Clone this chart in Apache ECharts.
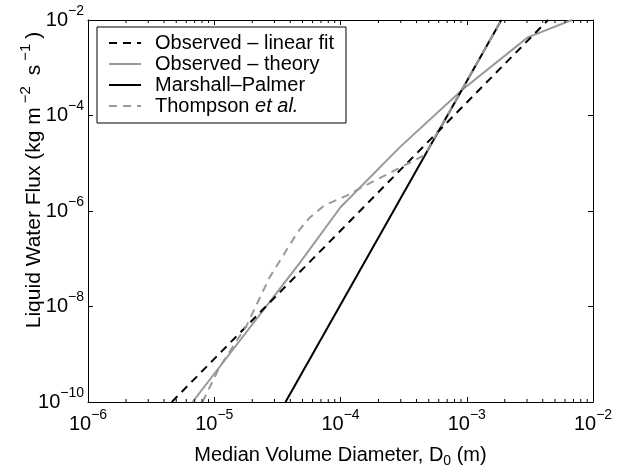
<!DOCTYPE html>
<html><head><meta charset="utf-8">
<script src="https://cdn.jsdelivr.net/npm/echarts@6/dist/echarts.min.js"></script>
<style>html,body{margin:0;padding:0;background:#fff}#c{width:624px;height:473px}</style>
</head><body><div id="c"></div>
<script>
const seriesNames = ['Observed – linear fit', 'Observed – theory', 'Marshall–Palmer', 'Thompson et al.'];
const linearFitD = [4.61e-6, 4.40e-3];
const linearFitF = [1e-10, 1e-2];
const theoryD = [6.73e-6, 4.74e-5, 1.00e-4, 2.94e-4, 9.27e-4, 3.04e-3, 6.78e-3];
const theoryF = [1e-10, 8.11e-8, 1.20e-6, 2.15e-5, 3.51e-4, 4.33e-3, 1e-2];
const mpD = [3.67e-5, 1.88e-3];
const mpF = [1e-10, 1e-2];
const thompsonD = [8.07e-6, 1.10e-5, 1.80e-5, 2.74e-5, 4.57e-5, 5.69e-5, 7.48e-5, 1.12e-4, 1.50e-4, 2.59e-4, 4.65e-4, 1.88e-3];
const thompsonF = [1e-10, 5.33e-10, 3.94e-9, 4.04e-8, 3.60e-7, 7.23e-7, 1.32e-6, 2.10e-6, 3.20e-6, 6.73e-6, 1.49e-5, 1e-2];
const xTicks = [1e-6, 1e-5, 1e-4, 1e-3, 1e-2];
const yTicks = [1e-10, 1e-8, 1e-6, 1e-4, 1e-2];

const FONT = "'Liberation Sans', Arial, Helvetica, sans-serif";
const xMin = xTicks[0], xMax = xTicks[xTicks.length - 1];
const yMin = yTicks[0], yMax = yTicks[yTicks.length - 1];
const minorX = [];
for (let i = 0; i < xTicks.length - 1; i++) for (let k = 2; k <= 9; k++) minorX.push([k * xTicks[i], yMin]);

function pair(a, b) { return a.map((v, i) => [v, b[i]]); }
function expLabel(v) {
  const e = Math.round(Math.log10(v));
  return '{b|10}{s|' + (e < 0 ? '\u2212' : '') + Math.abs(e) + '}';
}
const tickRich = {
  b: { fontFamily: FONT, fontSize: 20, color: '#000' },
  s: { fontFamily: FONT, fontSize: 14, color: '#000', padding: [0, 0, 18, 0] }
};

const chart = echarts.init(document.getElementById('c'), null, { renderer: 'canvas' });
const axisCommon = {
  axisLine: { show: true, onZero: false, lineStyle: { color: '#000', width: 1 } },
  axisTick: { show: true, inside: true, length: 5, lineStyle: { color: '#000', width: 1 } },
  splitLine: { show: false },
  minorTick: { show: false }
};
chart.setOption({
  animation: false,
  backgroundColor: '#fff',
  grid: { left: 88, right: 31, top: 20, bottom: 57, containLabel: false },
  xAxis: [
    Object.assign({ type: 'log', logBase: 10, min: xMin, max: xMax, position: 'bottom',
      axisLabel: { margin: 6, formatter: expLabel, rich: tickRich },
      name: 'Median Volume Diameter, {sub|D}{s0|0} (m)', nameLocation: 'middle', nameGap: 40,
      nameTextStyle: { fontFamily: FONT, fontSize: 20, color: '#000',
        rich: { sub: { fontFamily: FONT, fontSize: 20, color: '#000' },
                s0: { fontFamily: FONT, fontSize: 14, color: '#000', padding: [12, 0, 0, 0] } } }
    }, axisCommon),
    Object.assign({ type: 'log', logBase: 10, min: xMin, max: xMax, position: 'top',
      axisLabel: { show: false } }, axisCommon)
  ],
  yAxis: [
    Object.assign({ type: 'log', logBase: 100, min: yMin, max: yMax, position: 'left',
      axisLabel: { margin: 4, formatter: expLabel, rich: tickRich } }, axisCommon),
    Object.assign({ type: 'log', logBase: 100, min: yMin, max: yMax, position: 'right',
      axisLabel: { show: false } }, axisCommon)
  ],
  legend: {
    orient: 'vertical', left: 97, top: 27,
    data: seriesNames,
    backgroundColor: '#fff', borderColor: '#000', borderWidth: 1, borderRadius: 0,
    padding: [6, 12, 7, 11], itemGap: 1, itemWidth: 32, itemHeight: 14,
    itemStyle: { opacity: 0, borderWidth: 0 },
    textStyle: { fontFamily: FONT, fontSize: 20, lineHeight: 20, color: '#000', padding: [0, 0, 0, 9],
      rich: { n: { fontFamily: FONT, fontSize: 20, lineHeight: 20, color: '#000' },
              i: { fontFamily: FONT, fontSize: 20, lineHeight: 20, color: '#000', fontStyle: 'italic' } } },
    formatter: function (name) {
      if (name === seriesNames[3]) return '{n|Thompson }{i|et al.}';
      return name;
    }
  },
  graphic: [{
    type: 'text', x: 34, y: 180, rotation: Math.PI / 2,
    style: {
      text: 'Liquid Water Flux (kg m{s|\u22122} s{s|\u22121})',
      fontFamily: FONT, fontSize: 21, fill: '#000', align: 'center', verticalAlign: 'middle',
      rich: { s: { fontFamily: FONT, fontSize: 15, fill: '#000', padding: [0, 5, 17, 4] } }
    }
  }],
  series: [
    { name: seriesNames[0], type: 'line', data: pair(linearFitD, linearFitF), symbol: 'none',
      lineStyle: { color: '#000', width: 2, type: [8, 6] }, itemStyle: { color: '#000' }, z: 3 },
    { name: seriesNames[1], type: 'line', data: pair(theoryD, theoryF), symbol: 'none',
      lineStyle: { color: '#999', width: 2, type: 'solid' }, itemStyle: { color: '#999' }, z: 2 },
    { name: seriesNames[2], type: 'line', data: pair(mpD, mpF), symbol: 'none',
      lineStyle: { color: '#000', width: 2, type: 'solid' }, itemStyle: { color: '#000' }, z: 3 },
    { name: seriesNames[3], type: 'line', data: pair(thompsonD, thompsonF), symbol: 'none',
      lineStyle: { color: '#999', width: 2, type: [8, 6] }, itemStyle: { color: '#999' }, z: 4 },
    { type: 'custom', silent: true, clip: false, data: minorX, z: 5,
      renderItem: function (params, api) {
        const b = api.coord([api.value(0), yMin]);
        const t = api.coord([api.value(0), yMax]);
        return { type: 'group', children: [
          { type: 'line', shape: { x1: b[0], y1: b[1], x2: b[0], y2: b[1] - 3 }, style: { stroke: '#000', lineWidth: 1 } },
          { type: 'line', shape: { x1: t[0], y1: t[1], x2: t[0], y2: t[1] + 3 }, style: { stroke: '#000', lineWidth: 1 } }
        ] };
      } }
  ]
});
</script></body></html>
